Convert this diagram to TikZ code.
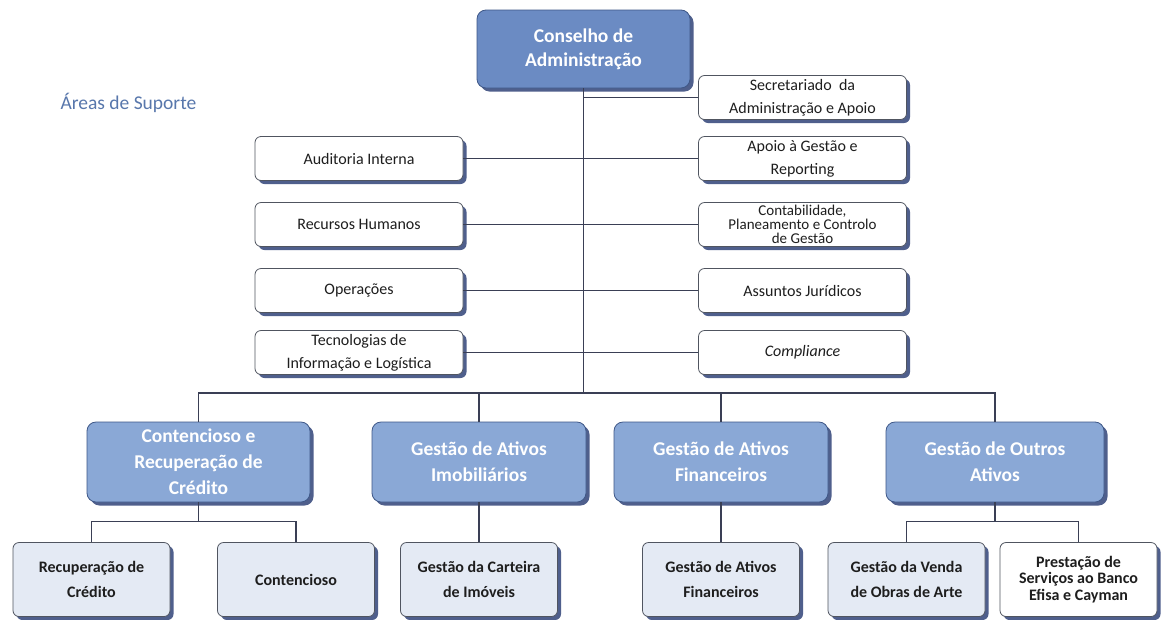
\documentclass[tikz,border=0pt]{standalone}
\usepackage{fontspec}
\setmainfont{Carlito}
\usetikzlibrary{shadows,calc}
\definecolor{conFill}{HTML}{6B8BC3}
\definecolor{conDraw}{HTML}{3E5787}
\definecolor{midFill}{HTML}{8AA8D6}
\definecolor{leafFill}{HTML}{E4EAF4}
\definecolor{shadowc}{HTML}{4F5F8C}
\definecolor{boxdraw}{HTML}{505560}
\definecolor{textdark}{HTML}{1E1E1E}
\definecolor{areac}{HTML}{5877AC}
\definecolor{linec}{HTML}{3A3F55}
\newcommand\tightfont{\fontsize{15}{14}\selectfont\lineskiplimit=-20pt\relax}
\begin{document}
\begin{tikzpicture}[x=1pt,y=-1pt,
  base/.style={rounded corners=6pt, draw=boxdraw, line width=0.8pt, align=center, inner sep=0pt,
    drop shadow={shadow xshift=3.5pt, shadow yshift=-3.5pt, fill=shadowc, opacity=1}},
  support/.style={base, fill=white, minimum width=208pt, minimum height=44pt,
    font=\fontsize{16}{23}\selectfont, text=textdark},
  topbox/.style={base, fill=conFill, draw=conDraw, minimum width=213pt, minimum height=78pt,
    rounded corners=9pt, font=\bfseries\fontsize{19.5}{24}\selectfont, text=white},
  midbox/.style={base, fill=midFill, draw=conDraw, minimum width=214pt, minimum height=80pt,
    rounded corners=9pt, font=\bfseries\fontsize{19.5}{26}\selectfont, text=white},
  leaf/.style={base, fill=leafFill, minimum width=157pt, minimum height=74pt,
    font=\bfseries\fontsize{16}{25}\selectfont, text=textdark},
  link/.style={draw=linec, line width=1.1pt}
]
\useasboundingbox (0,0) rectangle (1161,619);
\fill[white] (0,0) rectangle (1161,619);

% top
\node[topbox] (cons) at (583.5,49) {Conselho de\\Administração};
\node[anchor=west, text=areac, font=\fontsize{19.5}{24}\selectfont] (areas) at (57,103) {Áreas de Suporte};

% support areas
\node[support] (sec) at (802.5,97.5) {Secretariado\ \ da\\Administração e Apoio};
\node[support] (audit) at (359,158.5) {Auditoria Interna};
\node[support] (apoio) at (802.5,158.5) {Apoio à Gestão e\\Reporting};
\node[support] (rh) at (359,224.5) {Recursos Humanos};
\node[support, font=\tightfont] (contab) at (802.5,224.5) {Contabilidade,\\Planeamento e Controlo\\de Gestão};
\node[support] (ops) at (359,290.5) {Operações};
\node[support] (jur) at (802.5,290.5) {Assuntos Jurídicos};
\node[support] (tec) at (359,352.5) {Tecnologias de\\Informação e Logística};
\node[support] (comp) at (802.5,352.5) {\itshape Compliance};

% level 2
\node[midbox, minimum width=223pt] (cont) at (198.5,462) {Contencioso e\\Recuperação de\\Crédito};
\node[midbox] (imob) at (479,462) {Gestão de Ativos\\Imobiliários};
\node[midbox] (fin) at (721,462) {Gestão de Ativos\\Financeiros};
\node[midbox, minimum width=218pt] (outros) at (995,462) {Gestão de Outros\\Ativos};

% leaves
\node[leaf] (rec) at (91.5,579.5) {Recuperação de\\Crédito};
\node[leaf] (contenc) at (296,579.5) {Contencioso};
\node[leaf] (cart) at (479,579.5) {Gestão da Carteira\\de Imóveis};
\node[leaf] (gaf) at (721,579.5) {Gestão de Ativos\\Financeiros};
\node[leaf] (venda) at (906.5,579.5) {Gestão da Venda\\de Obras de Arte};
\node[leaf, fill=white, font=\bfseries\fontsize{16}{16.5}\selectfont] (prest) at (1078.5,579.5) {Prestação de\\Serviços ao Banco\\Efisa e Cayman};

% connectors
\coordinate (bus) at (583.5,393);
\draw[link] (cons.south) -- (bus);
\draw[link] (sec.west) -- (sec.west -| cons.south);
\draw[link] (apoio.west) -- (apoio.west -| cons.south);
\draw[link] (contab.west) -- (contab.west -| cons.south);
\draw[link] (jur.west) -- (jur.west -| cons.south);
\draw[link] (comp.west) -- (comp.west -| cons.south);
\draw[link] (audit.east) -- (audit.east -| cons.south);
\draw[link] (rh.east) -- (rh.east -| cons.south);
\draw[link] (ops.east) -- (ops.east -| cons.south);
\draw[link] (tec.east) -- (tec.east -| cons.south);

\draw[link] (cont.north) |- (bus) -| (outros.north);
\draw[link] (imob.north) -- (imob.north |- bus);
\draw[link] (fin.north) -- (fin.north |- bus);

\path (cont.south) ++(0,19) coordinate (csub);
\draw[link] (cont.south) -- (csub);
\draw[link] (rec.north) |- (csub) -| (contenc.north);
\draw[link] (imob.south) -- (cart.north);
\draw[link] (fin.south) -- (gaf.north);
\path (outros.south) ++(0,19) coordinate (osub);
\draw[link] (outros.south) -- (osub);
\draw[link] (venda.north) |- (osub) -| (prest.north);
\end{tikzpicture}
\end{document}
